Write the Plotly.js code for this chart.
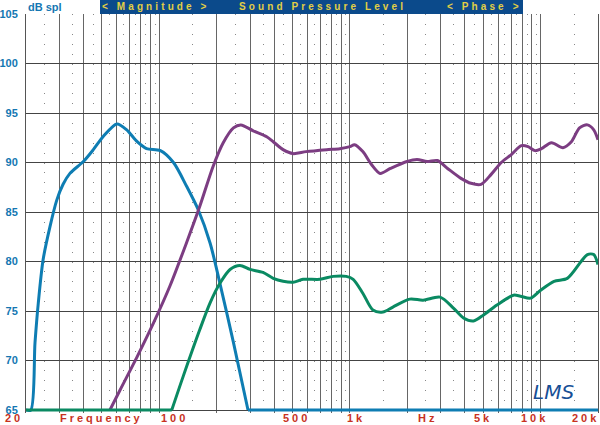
<!DOCTYPE html>
<html>
<head>
<meta charset="utf-8">
<script src="https://cdn.plot.ly/plotly-3.0.1.min.js"></script>
<style>html,body{margin:0;padding:0;background:#fff}#chart{width:600px;height:425px}</style>
</head>
<body>
<div id="chart"></div>
<script>
// ---- data ----
const blueFreq = [20, 21.2, 22.3, 23.2, 24.6, 26.7, 29.0, 31.3, 34.0, 40, 45.1, 50.7, 59.9, 67.5, 76.6, 85.7, 101.4, 118.7, 139.1, 160.3, 184.5, 208, 245, 292];
const blueDb   = [65, 65, 71.8, 75.8, 80.2, 83.5, 86.2, 87.8, 88.9, 90.1, 91.3, 92.6, 93.9, 93.3, 92.1, 91.4, 91.2, 90.0, 87.6, 85.2, 81.9, 77.8, 71.8, 65];
const blueFloorFreq = [292, 20000];
const blueFloorDb   = [65, 65];

const purpleFreq = [55.1, 62.2, 76.6, 93.3, 113.6, 139, 163.3, 191.5, 216.5, 245, 268, 311, 366, 396, 446, 503, 589, 754, 885, 1000, 1057, 1168, 1297, 1440, 1630, 1992, 2247, 2540, 2875, 3250, 3823, 4314, 4873, 5504, 6216, 7023, 7930, 8600, 9330, 10100, 11400, 13100, 14500, 16000, 17600, 19000, 20000];
const purpleDb   = [65, 67.0, 70.4, 73.8, 77.5, 81.9, 85.6, 89.6, 92.0, 93.5, 93.8, 93.2, 92.6, 92.1, 91.3, 90.9, 91.1, 91.3, 91.4, 91.6, 91.8, 91.1, 89.8, 88.9, 89.4, 90.1, 90.3, 90.1, 90.2, 89.4, 88.4, 87.9, 87.8, 88.8, 90.0, 90.8, 91.7, 91.6, 91.2, 91.4, 92.0, 91.5, 92.1, 93.5, 93.8, 93.3, 92.3];

const greenFloorFreq = [20, 116.3];
const greenFloorDb   = [65, 65];
const greenFreq = [116.3, 133.5, 163, 184.5, 208, 235, 265, 299, 350, 396, 446, 503, 568, 696, 816, 957, 1040, 1168, 1320, 1490, 1680, 2060, 2420, 2970, 3490, 3940, 4450, 5020, 5900, 7210, 7840, 8860, 10000, 11760, 13800, 16300, 17600, 19000, 20000];
const greenDb   = [65, 68.4, 73.1, 75.8, 77.8, 79.2, 79.6, 79.2, 78.9, 78.3, 78.0, 77.9, 78.2, 78.2, 78.5, 78.5, 78.2, 76.8, 75.1, 74.9, 75.4, 76.2, 76.1, 76.4, 75.3, 74.3, 74.0, 74.6, 75.6, 76.6, 76.5, 76.3, 77.1, 78.0, 78.3, 80.0, 80.7, 80.7, 79.7];

const majorFreqTicks = [20,30,40,50,60,70,80,90,100,200,300,400,500,600,700,800,900,1000,2000,3000,4000,5000,6000,7000,8000,9000,10000,20000];
const minorFreqTicks = [25,35,45,55,65,75,85,95,150,250,350,450,550,650,750,850,950,1500,2500,3500,4500,5500,6500,7500,8500,9500,15000];
const xLabels = ['20','Frequency','100','500','1k','Hz','5k','10k','20k'];
const xLabelPx = [14, 101, 174, 296, 356, 427, 482.5, 534, 585.5];
const headerTexts = ['< Magnitude >', 'Sound Pressure Level', '< Phase >'];
const headerPx = [156, 322, 485];

// ---- layout constants ----
const L = 26, R = 2, T = 14, B = 12, W = 600, H = 425;
const PW = W - L - R, PH = H - T - B;
const px2paperX = p => (p - L) / PW;
const yMin = 64.7, yMax = 105;
const pxPerDb = PH / (yMax - yMin);

const BLUE = '#0e7db3', PURPLE = '#7c3d82', GREEN = '#0a8a62';
const lineW = 3;

const traces = [
  {x: blueFreq, y: blueDb, mode: 'lines', line: {color: BLUE, width: lineW, shape: 'spline', smoothing: 0.8}},
  {x: blueFloorFreq, y: blueFloorDb, mode: 'lines', line: {color: BLUE, width: lineW}},
  {x: purpleFreq, y: purpleDb, mode: 'lines', line: {color: PURPLE, width: lineW, shape: 'spline', smoothing: 0.8}},
  {x: greenFloorFreq, y: greenFloorDb, mode: 'lines', line: {color: GREEN, width: lineW}},
  {x: greenFreq, y: greenDb, mode: 'lines', line: {color: GREEN, width: lineW, shape: 'spline', smoothing: 0.8}}
];

const sp = (t, s) => '<span style="letter-spacing:' + s + 'px">' + t + '</span>';

const annotations = [];
xLabels.forEach((t, i) => annotations.push({
  xref: 'paper', yref: 'paper', x: px2paperX(xLabelPx[i]), y: (H - B - 418) / PH,
  text: sp(t, 3), showarrow: false, xanchor: 'center', yanchor: 'middle',
  font: {family: 'Liberation Sans, Arial, sans-serif', size: 11, color: '#c8321e', weight: 'bold'}
}));
headerTexts.forEach((t, i) => annotations.push({
  xref: 'paper', yref: 'paper', x: px2paperX(headerPx[i]), y: 1 + 7 / PH,
  text: sp(t, 3.1), showarrow: false, xanchor: 'center', yanchor: 'middle',
  font: {family: 'Liberation Sans, Arial, sans-serif', size: 10, color: '#e2cf45', weight: 'bold'}
}));
annotations.push({
  xref: 'paper', yref: 'paper', x: px2paperX(26), y: 1 + 7 / PH,
  text: 'dB spl', showarrow: false, xanchor: 'left', yanchor: 'middle',
  font: {family: 'Liberation Sans, Arial, sans-serif', size: 11, color: '#1477b2', weight: 'bold'}
});
annotations.push({
  xref: 'paper', yref: 'paper', x: px2paperX(553), y: (H - B - 392) / PH,
  text: 'LMS', showarrow: false, xanchor: 'center', yanchor: 'middle',
  font: {family: 'DejaVu Sans, sans-serif', size: 20, color: '#174f96', style: 'italic'}
});

const layout = {
  width: W, height: H,
  margin: {l: L, r: R, t: T, b: B, pad: 0},
  paper_bgcolor: '#fff', plot_bgcolor: '#fff',
  showlegend: false,
  xaxis: {
    type: 'log', range: [Math.log10(20), Math.log10(20000)],
    tickmode: 'array', tickvals: majorFreqTicks, showticklabels: false, ticks: '',
    showgrid: true, gridcolor: '#666', gridwidth: 1, zeroline: false, showline: false,
    minor: {tickmode: 'array', tickvals: minorFreqTicks, showgrid: true, gridcolor: '#888', gridwidth: 1,
            griddash: '1px,' + (pxPerDb - 1).toFixed(3) + 'px', ticks: ''}
  },
  yaxis: {
    range: [yMin, yMax], tickmode: 'linear', tick0: 65, dtick: 5,
    showgrid: true, gridcolor: '#444', gridwidth: 1, zeroline: false,
    showline: true, mirror: true, linecolor: '#555', linewidth: 1,
    ticks: 'outside', ticklen: 5, tickcolor: 'rgba(0,0,0,0)',
    tickfont: {family: 'Liberation Sans, Arial, sans-serif', size: 11, color: '#1477b2', weight: 'bold'}
  },
  shapes: [{
    type: 'rect', xref: 'paper', yref: 'paper', layer: 'below',
    x0: px2paperX(100), x1: px2paperX(523), y0: 1, y1: 1 + T / PH,
    fillcolor: '#0b4a8b', line: {width: 0}
  }],
  annotations: annotations
};

Plotly.newPlot('chart', traces, layout, {displayModeBar: false, staticPlot: true});
</script>
</body>
</html>
